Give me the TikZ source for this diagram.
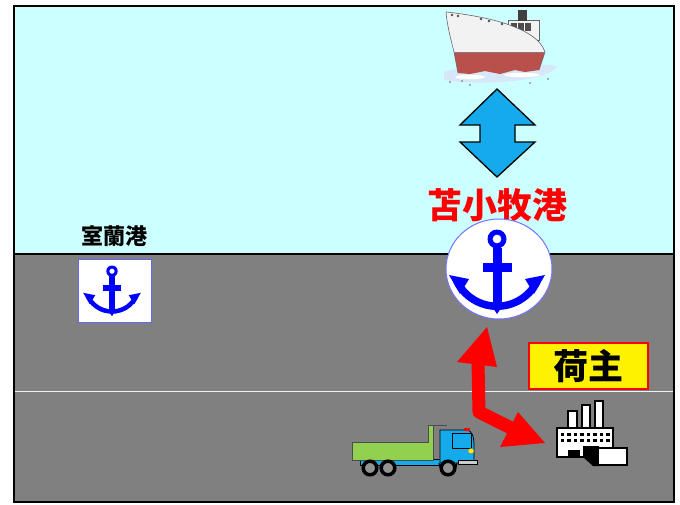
\documentclass[tikz,border=0pt]{standalone}
\usepackage{fontspec}
\newfontfamily\jp{Noto Sans CJK JP}
\usetikzlibrary{shapes.geometric}
\definecolor{sky}{RGB}{204,255,255}
\definecolor{land}{RGB}{128,128,128}
\definecolor{arrowblue}{RGB}{20,170,235}
\definecolor{anchorblue}{RGB}{0,0,255}
\definecolor{bedgreen}{RGB}{146,208,80}
\definecolor{hullred}{RGB}{185,80,75}
\definecolor{hullwhite}{RGB}{242,242,242}
\definecolor{seafoam}{RGB}{215,230,248}

\tikzset{
  anchorpic/.pic={
    % ring
    \fill[anchorblue, even odd rule] (0,-28) circle (9.5) (0,-28) circle (4.5);
    % shank and stock
    \fill[anchorblue] (-4.5,-19.5) rectangle (4.5,40);
    \fill[anchorblue] (-14.5,-4.5) rectangle (14.5,4.5);
    % crown arc
    \begin{scope}[shift={(0,-5.5)}]
      \fill[anchorblue] (26:48.5) arc[start angle=26, end angle=154, radius=48.5]
        -- (154:41) arc[start angle=154, end angle=26, radius=41] -- cycle;
    \end{scope}
    % flukes
    \fill[anchorblue] (-48,8) -- (-28,12) -- (-37,27) -- cycle;
    \fill[anchorblue] (48,8) -- (28,12) -- (37,27) -- cycle;
    \fill[anchorblue] (-6,38) -- (6,38) -- (0,47) -- cycle;
  },
  jplabel/.style={font=\jp\bfseries, inner sep=0pt},
  redshaft/.style={red, line width=13pt, line join=round},
}

\begin{document}
\begin{tikzpicture}[x=1pt, y=-1pt]
\useasboundingbox (0,0) rectangle (680,504);
\fill[white] (0,0) rectangle (680,504);

% sea and land
\fill[sky] (14,6) rectangle (674,254);
\fill[land] (14,254) rectangle (674,502);
\draw[white!90!gray, line width=1pt] (14,391) -- (674,391);
\draw[line width=2pt] (14,254) -- (674,254);
\draw[line width=2.5pt] (14,6) rectangle (674,502);

% ---- ship ----
\fill[seafoam] (444,72) .. controls (470,63) and (530,62) .. (557,66)
  .. controls (550,82) and (480,86) .. (444,80) -- cycle;
\fill[white] (470,77) ellipse[x radius=15, y radius=2.2];
\fill[white] (522,75) ellipse[x radius=18, y radius=2.2];
\foreach \p in {(450,82),(470,85),(530,83),(548,79),(462,81)}
  \fill[black!60] \p circle (0.8);
% superstructure
\filldraw[fill=hullwhite, draw=black!60, line width=0.5pt] (508,20) rectangle (539,40);
\fill[black!75] (518,10) rectangle (527,21);
\fill[black!70] (511,23) rectangle (531,31);
\draw[white, line width=0.6pt] (517.5,23) -- (517.5,31) (524,23) -- (524,31);
% lower hull
\fill[hullred] (454,52) -- (545,52) -- (539,70) -- (525,72) -- (515,70) -- (500,74)
  -- (485,71) -- (470,74) -- (458,73) -- cycle;
% upper hull
\fill[hullwhite] (446,12) .. controls (475,15) and (500,21) .. (512,26)
  .. controls (528,32) and (541,40) .. (545,52) -- (454,52)
  .. controls (451,40) and (447,25) .. (446,12) -- cycle;
\draw[black!60, line width=0.6pt] (446,12) .. controls (475,15) and (500,21) .. (512,26)
  .. controls (528,32) and (541,40) .. (545,52) -- (539,70);
\draw[black!60, line width=0.6pt] (446,12) .. controls (447,25) and (451,40) .. (454,52) -- (458,73);
\draw[black!50, line width=0.5pt] (454,52) -- (545,52);
\foreach \p in {(452,15),(458,16),(481,19),(489,21),(502,24)}
  \fill[black!70] \p circle (1.3);

% ---- two-way arrow between ship and port ----
\filldraw[fill=arrowblue, draw=black, line width=1.3pt, line join=miter]
  (497,89) -- (535,125) -- (515,125) -- (515,142) -- (535,142) -- (497,177)
  -- (460,142) -- (480,142) -- (480,125) -- (460,125) -- cycle;

% ---- Tomakomai port ----
\node (tmklabel) [jplabel, text=red, font=\jp\bfseries\fontsize{35}{35}\selectfont] at (497,205) {苫小牧港};
\node (tmkport) [ellipse, fill=white, draw=anchorblue!55, line width=1pt,
  minimum width=106pt, minimum height=100pt, inner sep=0pt] at (499,269) {};
\pic at (497,267) {anchorpic};

% ---- Muroran port ----
\node (murlabel) [jplabel, font=\jp\bfseries\fontsize{22}{22}\selectfont] at (114,236) {室蘭港};
\node (murport) [rectangle, fill=white, draw=anchorblue!60, line width=0.8pt,
  minimum width=73pt, minimum height=63pt, inner sep=0pt] at (114.5,290.5) {};
\pic[scale=0.6] at (112,288) {anchorpic};

% ---- shipper ----
\node (shipper) [jplabel, fill=yellow, draw=red, line width=1.5pt,
  minimum width=119pt, minimum height=46pt,
  font=\jp\bfseries\fontsize{35}{35}\selectfont] at (588.5,366) {荷主};

% ---- factory ----
\foreach \a/\b/\t in {568/577/411, 582/590/405, 595/603/401}
  \filldraw[fill=white, draw=black, line width=1.3pt] (\a,\t) rectangle (\b,428);
\filldraw[fill=white, draw=black, line width=1.6pt] (557,428) rectangle (613,457);
\foreach \r in {433,439}
  \foreach \i in {0,...,7}
    \fill (560.5+\i*6.5,\r) rectangle ++(3.5,2.6);
\fill (568,450) rectangle (580,457);
\fill (583,446) -- (599,446) -- (599,466) -- (593,466) -- (583,457) -- cycle;
\filldraw[fill=white, draw=black, line width=1.3pt] (598,448) rectangle (627,465);
\coordinate (factory) at (545,443);

% ---- truck ----
\filldraw[fill=arrowblue, draw=black, line width=0.8pt] (360,459) rectangle (442,465);
\filldraw[fill=bedgreen, draw=black!70, line width=0.8pt]
  (352,442) -- (428,442) -- (428,425) -- (433,425) -- (433,460) -- (352,460) -- cycle;
\draw[black!70, line width=1pt] (433,425) -- (447,425);
\filldraw[fill=arrowblue, draw=black, line width=0.8pt]
  (440,430) -- (466,430) .. controls (472,430) and (474,436) .. (474,446)
  -- (474,463) -- (440,463) -- cycle;
\filldraw[fill=arrowblue, draw=black, line width=0.8pt] (452,433) rectangle (471,448);
\draw[black, line width=1pt] (439,463) arc[start angle=180, end angle=0, radius=9] ;
\filldraw[fill=gray!40, draw=black, line width=0.6pt] (458,460) rectangle (477,464);
\filldraw[fill=yellow, draw=black!50, line width=0.4pt] (471,451) ellipse[x radius=3, y radius=2.6];
\fill[red] (464,427.5) rectangle (470,431);
\foreach \x in {370,388,448} {
  \fill[land!85!white] (\x,468) circle (6.5);
  \draw[black, line width=3.5pt] (\x,468) circle (6.8);
}
\coordinate (truckside) at (478,362);

% ---- transport route between port, truck and shipper ----
\coordinate (portend) at (487,327);
\coordinate (bend) at (479,412);
\draw[redshaft] (truckside) -- (bend) -- (515,430);
\fill[red] (portend) -- (457,362) -- (497,367) -- cycle;
\fill[red] (factory) -- (518,412) -- (500,447) -- cycle;
\end{tikzpicture}
\end{document}
